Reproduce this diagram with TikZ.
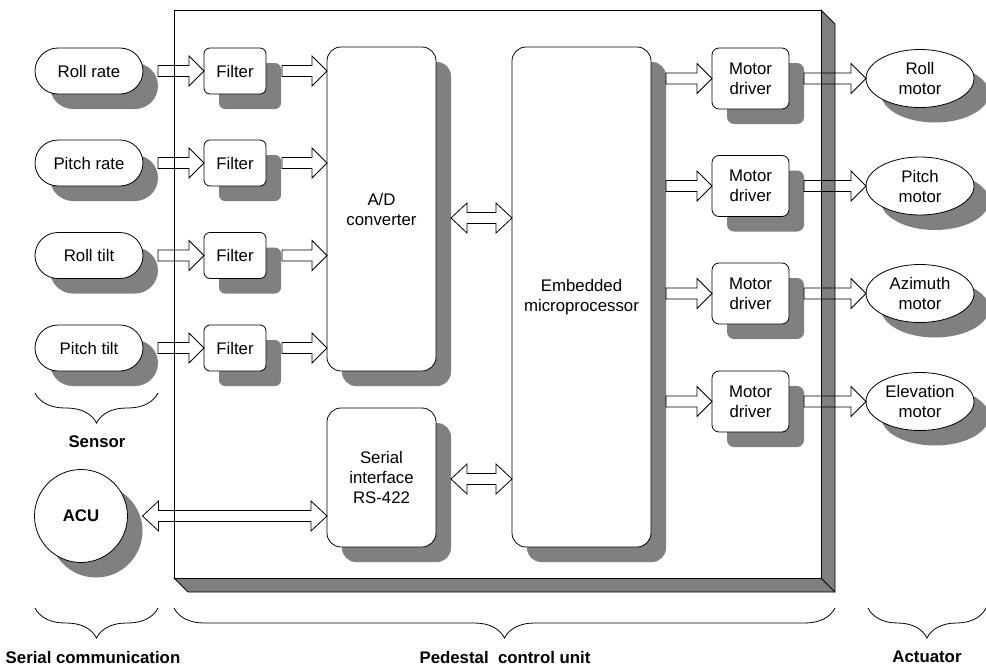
\documentclass[tikz,border=0pt]{standalone}
\usepackage{fontspec}
\setmainfont{Liberation Sans}
\usetikzlibrary{shapes.geometric, shadows, decorations.pathreplacing, calc}

\definecolor{shadowgray}{RGB}{128,128,128}

\tikzset{
    every node/.style={font=\fontsize{16.8}{20}\selectfont, align=center, inner sep=0pt, outer sep=0pt},
    shadowed/.style={draw, fill=white, line width=0.8pt,
        general shadow={fill=shadowgray, shadow xshift=15pt, shadow yshift=-15pt}},
    sensorbox/.style={shadowed, rounded corners=23pt, minimum width=108, minimum height=46},
    filterbox/.style={shadowed, rounded corners=6pt, minimum width=62, minimum height=46},
    bigbox/.style={shadowed, rounded corners=14pt, minimum width=109},
    drvbox/.style={shadowed, rounded corners=7pt, minimum width=77, minimum height=61},
    motorbox/.style={shadowed, ellipse, minimum width=108, minimum height=58},
    % hollow block arrow, horizontal, at the height of its start
    blockarrow/.style={draw, line width=0.8pt, to path={
        let \p1=(\tikztostart), \p2=(\tikztotarget) in
        (\x1,\y1+5.5pt) -- (\x2-15pt,\y1+5.5pt) -- (\x2-15pt,\y1+15pt) -- (\x2,\y1)
        -- (\x2-15pt,\y1-15pt) -- (\x2-15pt,\y1-5.5pt) -- (\x1,\y1-5.5pt) -- cycle}},
    dblarrow/.style={draw, line width=0.8pt, to path={
        let \p1=(\tikztostart), \p2=(\tikztotarget) in
        (\x1,\y1) -- (\x1+16pt,\y1+15pt) -- (\x1+16pt,\y1+5.5pt) -- (\x2-16pt,\y1+5.5pt)
        -- (\x2-16pt,\y1+15pt) -- (\x2,\y1) -- (\x2-16pt,\y1-15pt) -- (\x2-16pt,\y1-5.5pt)
        -- (\x1+16pt,\y1-5.5pt) -- (\x1+16pt,\y1-15pt) -- cycle}},
    groupbrace/.style={decorate, line width=0.8pt, decoration={brace, mirror, amplitude=30pt}},
    grouplabel/.style={font=\fontsize{16.8}{20}\selectfont\bfseries},
}

\begin{document}
\begin{tikzpicture}[x=1pt, y=-1pt]
    \useasboundingbox (0,0) rectangle (986,667);

    % pedestal control unit, a raised slab
    \draw[fill=shadowgray, line width=0.8pt] (174,578) -- (188,592) -- (835,592) -- (835,24) -- (821,10) -- cycle;
    \draw[line width=0.8pt] (821,578) -- (835,592);
    \node[draw, fill=white, line width=0.8pt, minimum width=647, minimum height=568] (pcu) at (497.5,294) {};

    % sensors
    \node[sensorbox] (rollrate) at (89,71) {Roll rate};
    \node[sensorbox] (pitchrate) at (89,163) {Pitch rate};
    \node[sensorbox] (rolltilt) at (89,255.5) {Roll tilt};
    \node[sensorbox] (pitchtilt) at (89,348) {Pitch tilt};

    % filters
    \node[filterbox] (filt1) at (235,71) {Filter};
    \node[filterbox] (filt2) at (235,163) {Filter};
    \node[filterbox] (filt3) at (235,255.5) {Filter};
    \node[filterbox] (filt4) at (235,348) {Filter};

    % converter, serial interface, processor
    \node[bigbox, minimum height=324] (adc) at (381.5,209) {A/D\\converter};
    \node[bigbox, minimum height=139] (serial) at (381.5,477.5) {Serial\\interface\\RS-422};
    \node[shadowed, rounded corners=14pt, minimum width=139, minimum height=500] (mpu) at (581.5,297) {Embedded\\microprocessor};

    % motor drivers
    \node[drvbox] (drv1) at (750.5,78.5) {Motor\\driver};
    \node[drvbox] (drv2) at (750.5,186) {Motor\\driver};
    \node[drvbox] (drv3) at (750.5,293.5) {Motor\\driver};
    \node[drvbox] (drv4) at (750.5,401.5) {Motor\\driver};

    % motors
    \node[motorbox] (rollmot) at (920,78.5) {Roll\\motor};
    \node[motorbox] (pitchmot) at (920,186) {Pitch\\motor};
    \node[motorbox] (azimot) at (920,293.5) {Azimuth\\motor};
    \node[motorbox] (elevmot) at (920,401.5) {Elevation\\motor};

    % ACU
    \node[shadowed, circle, minimum size=93, grouplabel] (acu) at (81,516) {ACU};

    % sensor -> filter -> converter
    \draw[blockarrow] ([xshift=15pt]rollrate.east) to (filt1.west);
    \draw[blockarrow] ([xshift=15pt]pitchrate.east) to (filt2.west);
    \draw[blockarrow] ([xshift=15pt]rolltilt.east) to (filt3.west);
    \draw[blockarrow] ([xshift=15pt]pitchtilt.east) to (filt4.west);
    \draw[blockarrow] ([xshift=16pt]filt1.east) to (adc.west);
    \draw[blockarrow] ([xshift=16pt]filt2.east) to (adc.west);
    \draw[blockarrow] ([xshift=16pt]filt3.east) to (adc.west);
    \draw[blockarrow] ([xshift=16pt]filt4.east) to (adc.west);

    % links to the processor
    \draw[dblarrow] ([shift={(15,9)}]adc.east) to (mpu.west);
    \draw[dblarrow] ([shift={(15,1.5)}]serial.east) to (mpu.west);
    \draw[dblarrow] ([xshift=15pt]acu.east) to (serial.west);

    % processor -> drivers -> motors
    \draw[blockarrow] ([xshift=15pt]mpu.east |- drv1.west) to (drv1.west);
    \draw[blockarrow] ([xshift=15pt]mpu.east |- drv2.west) to (drv2.west);
    \draw[blockarrow] ([xshift=15pt]mpu.east |- drv3.west) to (drv3.west);
    \draw[blockarrow] ([xshift=15pt]mpu.east |- drv4.west) to (drv4.west);
    \draw[blockarrow] ([xshift=15pt]drv1.east) to (rollmot.west);
    \draw[blockarrow] ([xshift=15pt]drv2.east) to (pitchmot.west);
    \draw[blockarrow] ([xshift=15pt]drv3.east) to (azimot.west);
    \draw[blockarrow] ([xshift=15pt]drv4.east) to (elevmot.west);

    % groups
    \draw[groupbrace] (35,393) -- (158,393);
    \node[grouplabel] (sensorlbl) at (97,442) {Sensor};
    \draw[groupbrace] (35,608) -- (158,608);
    \node[grouplabel] (seriallbl) at (93,657) {Serial communication};
    \draw[groupbrace] (174,608) -- (835,608);
    \node[grouplabel] (pculbl) at (505,657) {Pedestal\ \ control unit};
    \draw[groupbrace] (868,608) -- (986,608);
    \node[grouplabel] (actlbl) at (927,657) {Actuator};
\end{tikzpicture}
\end{document}
